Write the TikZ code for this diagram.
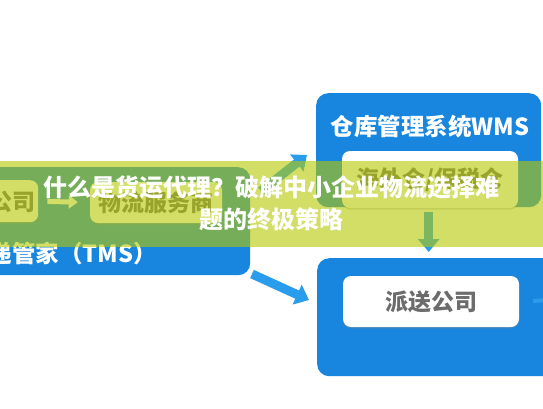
\documentclass[tikz,border=0pt]{standalone}
\usepackage{fontspec}
\newfontfamily\cjk{Noto Sans CJK SC}
\usetikzlibrary{arrows.meta,shadows}
\definecolor{bluebox}{RGB}{24,134,222}
\definecolor{arrowblue}{RGB}{42,156,236}
\definecolor{cardtext}{RGB}{108,108,108}
\definecolor{bannerc}{RGB}{180,200,0}
\tikzset{
  panel/.style={fill=bluebox, rounded corners=12pt, draw=none, inner sep=0pt},
  card/.style={fill=white, rounded corners=8pt, draw=none, inner sep=0pt,
    drop shadow={shadow xshift=0pt, shadow yshift=-1.5pt, opacity=0.35},
    font=\cjk\bfseries\fontsize{23}{26}\selectfont, text=cardtext},
  cardlabel/.style={inner sep=0pt, font=\cjk\bfseries\fontsize{23}{26}\selectfont, text=cardtext},
  paneltitle/.style={inner sep=0pt, font=\cjk\bfseries\fontsize{23.5}{26}\selectfont, text=white},
  bigarrow/.style={draw=arrowblue, line width=9pt, -{Triangle[width=21pt,length=13pt]}},
  smallarrow/.style={draw=white, line width=5pt, -{Triangle[width=13pt,length=9pt]}},
  bannertext/.style={inner sep=0pt, align=center, text=white,
    font=\cjk\bfseries\fontsize{24}{32}\selectfont}
}
\begin{document}
\begin{tikzpicture}[x=1pt,y=-1pt]
\useasboundingbox (0,0) rectangle (543,408);
\fill[white] (0,0) rectangle (543,408);

% left panel (TMS)
\node[panel, anchor=north west, minimum width=270pt, minimum height=108pt] (tms) at (-20,167) {};
\node[card, anchor=north west, minimum width=58pt, minimum height=42pt] (gs) at (-20,180) {};
\node[cardlabel, anchor=east] (gsT) at (36,202) {公司};
\node[card, minimum width=132pt, minimum height=41pt] (wl) at (156,202.5) {物流服务商};
\draw[smallarrow, shorten <=9pt, shorten >=12pt] (gs.east) -- (wl.west);
\node[paneltitle, anchor=east] (tmsT) at (157,254) {递管家（TMS）};

% WMS panel
\node[panel, anchor=north west, minimum width=225pt, minimum height=114pt] (wms) at (316,93) {};
\node[paneltitle] (wmsT) at (430,127) {仓库管理系统WMS};
\node[card, minimum width=176pt, minimum height=57pt] (ovs) at (430,179.5) {海外仓/保税仓};

% delivery panel
\node[panel, anchor=north west, minimum width=250pt, minimum height=118pt] (dist) at (317,258) {};
\node[card, minimum width=176pt, minimum height=51pt] (dcard) at (431,301.5) {派送公司};

% connectors
\coordinate (a1s) at (261,191);
\coordinate (a1e) at (307,155);
\coordinate (a2s) at (252,274);
\coordinate (a2e) at (309,300);
\coordinate (stubE) at (552,300);
\draw[bigarrow] (a1s) -- (a1e);
\draw[bigarrow] (a2s) -- (a2e);
\draw[bigarrow] ([yshift=-5pt]wms.south) -- ([yshift=6pt]wms.south |- dist.north);
\draw[draw=arrowblue, line width=4pt, shorten <=14pt] (dcard.east) -- (stubE);

% banner overlay
\fill[bannerc, opacity=0.6] (0,160.5) rectangle (543,247);
\node[bannertext] (title) at (271.5,203) {什么是货运代理？破解中小企业物流选择难\\题的终极策略};
\end{tikzpicture}
\end{document}
